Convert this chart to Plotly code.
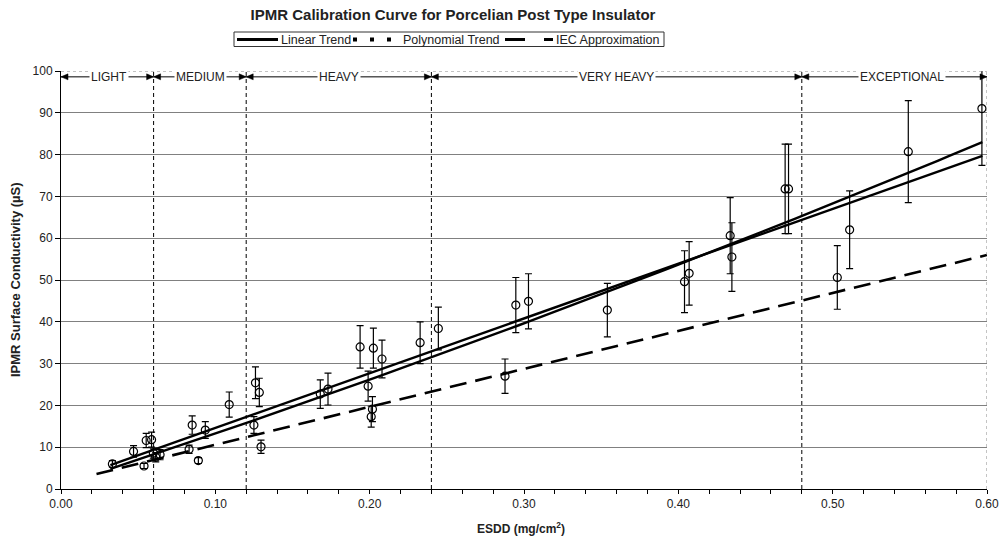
import numpy as np
import plotly.graph_objects as go

# ---------------- data ----------------
esdd = [0.0333, 0.0470, 0.0538, 0.0552, 0.0587, 0.0598, 0.0614, 0.0642,
        0.0830, 0.0850, 0.0890, 0.0935, 0.1090, 0.1250, 0.1260, 0.1285,
        0.1296, 0.1680, 0.1730, 0.1938, 0.1990, 0.2018, 0.2010, 0.2024,
        0.2080, 0.2327, 0.2445, 0.2877, 0.2947, 0.3029, 0.3540, 0.4040,
        0.4070, 0.4336, 0.4347, 0.4692, 0.4714, 0.5030, 0.5110, 0.5490,
        0.5967]
conductivity = [6.0, 9.0, 5.5, 11.6, 11.8, 8.6, 7.6, 8.2,
                9.5, 15.3, 6.8, 14.1, 20.2, 15.3, 25.4, 23.1,
                10.1, 22.7, 23.9, 34.0, 24.6, 19.1, 17.3, 33.7,
                31.1, 35.0, 38.4, 27.0, 44.0, 44.9, 42.8, 49.6,
                51.6, 60.6, 55.5, 71.8, 71.8, 50.6, 62.0, 80.7,
                91.0]
cond_err = [0.8, 1.4, 0.6, 1.7, 1.8, 1.2, 1.1, 1.2,
            1.0, 2.2, 0.7, 2.0, 3.0, 2.0, 3.8, 3.4,
            1.6, 3.4, 3.8, 5.1, 3.6, 3.0, 2.5, 4.8,
            4.5, 5.0, 5.1, 4.1, 6.6, 6.6, 6.4, 7.4,
            7.6, 9.1, 8.2, 10.7, 10.7, 7.6, 9.3, 12.2,
            13.6]

zone_bounds = [0.0, 0.06, 0.12, 0.24, 0.48, 0.60]
zone_labels = ["LIGHT", "MEDIUM", "HEAVY", "VERY HEAVY", "EXCEPTIONAL"]
zone_label_x = [0.031, 0.0907, 0.18, 0.36, 0.545]
zone_arrow_y = 98.6

linear_coef = [1.5, 131.0]            # intercept, slope
poly_coef = [0.9, 120.7, 28.1]        # c0, c1, c2
iec_coef = [1.5, 90.8]                # intercept, slope
trend_x_range = [0.032, 0.597]
iec_x_range = [0.023, 0.600]

x_ticks = [0.0, 0.1, 0.2, 0.3, 0.4, 0.5, 0.6]
y_ticks = [0, 10, 20, 30, 40, 50, 60, 70, 80, 90, 100]

legend_names = ["Linear Trend", "Polynomial Trend", "IEC Approximation"]

FONT = "Liberation Sans, Arial, sans-serif"
NARROW = "Liberation Sans Narrow, Arial Narrow, Liberation Sans, sans-serif"

# plot-area geometry (pixels) used for placing legend/titles
W, H = 1002, 552
L, R, T, B = 61, 15, 71, 63
PW, PH = W - L - R, H - T - B


def px(xp):
    return (xp - L) / PW


def py(yp):
    return (H - B - yp) / PH


# ---------------- curves ----------------
xt = np.linspace(trend_x_range[0], trend_x_range[1], 80)
y_lin = linear_coef[0] + linear_coef[1] * xt
y_poly = poly_coef[0] + poly_coef[1] * xt + poly_coef[2] * xt ** 2
xi = np.linspace(iec_x_range[0], iec_x_range[1], 80)
y_iec = iec_coef[0] + iec_coef[1] * xi

fig = go.Figure()

fig.add_trace(go.Scatter(x=xi, y=y_iec, mode="lines", name=legend_names[2],
                         showlegend=False,
                         line=dict(color="black", width=2.6, dash="17px,9px")))
fig.add_trace(go.Scatter(x=xt, y=y_lin, mode="lines", name=legend_names[0],
                         showlegend=False, line=dict(color="black", width=2.4)))
fig.add_trace(go.Scatter(x=xt, y=y_poly, mode="lines", name=legend_names[1],
                         showlegend=False, line=dict(color="black", width=2.4)))

fig.add_trace(go.Scatter(
    x=esdd, y=conductivity, mode="markers", showlegend=False, name="IPMR",
    marker=dict(symbol="circle-open", size=8, color="black", line=dict(width=1.2)),
    error_y=dict(type="data", array=cond_err, visible=True, color="black",
                 thickness=1.2, width=3.5)))

shapes = []
annotations = []

# zone boundaries
for b in zone_bounds[1:-1]:
    shapes.append(dict(type="line", xref="x", yref="y", x0=b, x1=b, y0=0, y1=100,
                       line=dict(color="black", width=1, dash="4px,3px"), layer="above"))
# dotted top and right frame
shapes.append(dict(type="line", xref="x", yref="y", x0=0, x1=0.6, y0=100, y1=100,
                   line=dict(color="#888888", width=1, dash="dot"), layer="above"))
shapes.append(dict(type="line", xref="x", yref="y", x0=0.6, x1=0.6, y0=0, y1=100,
                   line=dict(color="#888888", width=1, dash="dot"), layer="above"))

# zone arrows
for i, lab in enumerate(zone_labels):
    a, b = zone_bounds[i], zone_bounds[i + 1]
    shapes.append(dict(type="line", xref="x", yref="y", x0=a, x1=b,
                       y0=zone_arrow_y, y1=zone_arrow_y,
                       line=dict(color="black", width=1), layer="above"))
    # left-pointing head at a, right-pointing head at b
    shapes.append(dict(type="path", xref="x", yref="y", xsizemode="pixel",
                       ysizemode="pixel", xanchor=a, yanchor=zone_arrow_y,
                       path="M0,0 L7,3 L7,-3 Z", fillcolor="black",
                       line=dict(color="black", width=0.5), layer="above"))
    shapes.append(dict(type="path", xref="x", yref="y", xsizemode="pixel",
                       ysizemode="pixel", xanchor=b, yanchor=zone_arrow_y,
                       path="M0,0 L-7,3 L-7,-3 Z", fillcolor="black",
                       line=dict(color="black", width=0.5), layer="above"))
    annotations.append(dict(x=zone_label_x[i], y=zone_arrow_y, xref="x", yref="y",
                            text=lab, showarrow=False, bgcolor="white", borderpad=1,
                            font=dict(family=FONT, size=12, color="#222")))

# ---------------- hand-drawn legend box ----------------
leg_y = 39.5
shapes.append(dict(type="rect", xref="paper", yref="paper",
                   x0=px(234), x1=px(664), y0=py(46.5), y1=py(32),
                   line=dict(color="#333", width=1), fillcolor="white"))
shapes.append(dict(type="line", xref="paper", yref="paper",
                   x0=px(237), x1=px(278), y0=py(leg_y), y1=py(leg_y),
                   line=dict(color="black", width=3)))
shapes.append(dict(type="line", xref="paper", yref="paper",
                   x0=px(353), x1=px(391), y0=py(leg_y), y1=py(leg_y),
                   line=dict(color="black", width=4, dash="4px,13px")))
shapes.append(dict(type="line", xref="paper", yref="paper",
                   x0=px(505), x1=px(553), y0=py(leg_y), y1=py(leg_y),
                   line=dict(color="black", width=3, dash="20px,19px")))
for name, xs in zip(legend_names, [279, 401, 554]):
    annotations.append(dict(x=px(xs), y=py(leg_y), xref="paper", yref="paper",
                            text=name, showarrow=False, xanchor="left",
                            yanchor="middle",
                            font=dict(family=FONT, size=12.5, color="#222")))

# axis titles
annotations.append(dict(x=px(15), y=0.5, xref="paper", yref="paper",
                        text="<b>IPMR Surface Conductivity (µS)</b>", textangle=-90,
                        showarrow=False, xanchor="center", yanchor="middle",
                        font=dict(family=FONT, size=13, color="#222")))
annotations.append(dict(x=px(521), y=py(528), xref="paper", yref="paper",
                        text="<b>ESDD (mg/cm<sup>2</sup>)</b>",
                        showarrow=False, xanchor="center", yanchor="middle",
                        font=dict(family=NARROW, size=12, color="#222")))

fig.update_layout(
    width=W, height=H,
    margin=dict(l=L, r=R, t=T, b=B, autoexpand=False),
    paper_bgcolor="white", plot_bgcolor="white",
    font=dict(family=FONT, size=11, color="#222"),
    title=dict(text="<b>IPMR Calibration Curve for Porcelian Post Type Insulator</b>",
               x=453 / W, xref="container", xanchor="center",
               y=1 - 15 / H, yref="container", yanchor="middle",
               font=dict(family=FONT, size=15, color="#222")),
    showlegend=False,
    shapes=shapes, annotations=annotations,
)

fig.update_xaxes(range=[0, 0.6], tickvals=x_ticks, automargin=False,
                 ticktext=[f"{v:.2f}" for v in x_ticks],
                 showgrid=False, zeroline=False, showline=True, linecolor="black",
                 linewidth=1, ticks="outside", ticklen=4, tickcolor="black",
                 tickfont=dict(family=NARROW, size=12, color="#222"),
                 minor=dict(tickvals=[round(0.02 * k, 2) for k in range(31)],
                            ticks="outside", ticklen=4, tickcolor="black"))
fig.update_yaxes(range=[0, 100], tickvals=y_ticks, automargin=False,
                 showgrid=True, gridcolor="#808080", gridwidth=1,
                 zeroline=False, showline=True, linecolor="black", linewidth=1,
                 ticks="outside", ticklen=5, tickcolor="black",
                 tickfont=dict(family=FONT, size=12, color="#222"))

fig.write_html("out.html")
